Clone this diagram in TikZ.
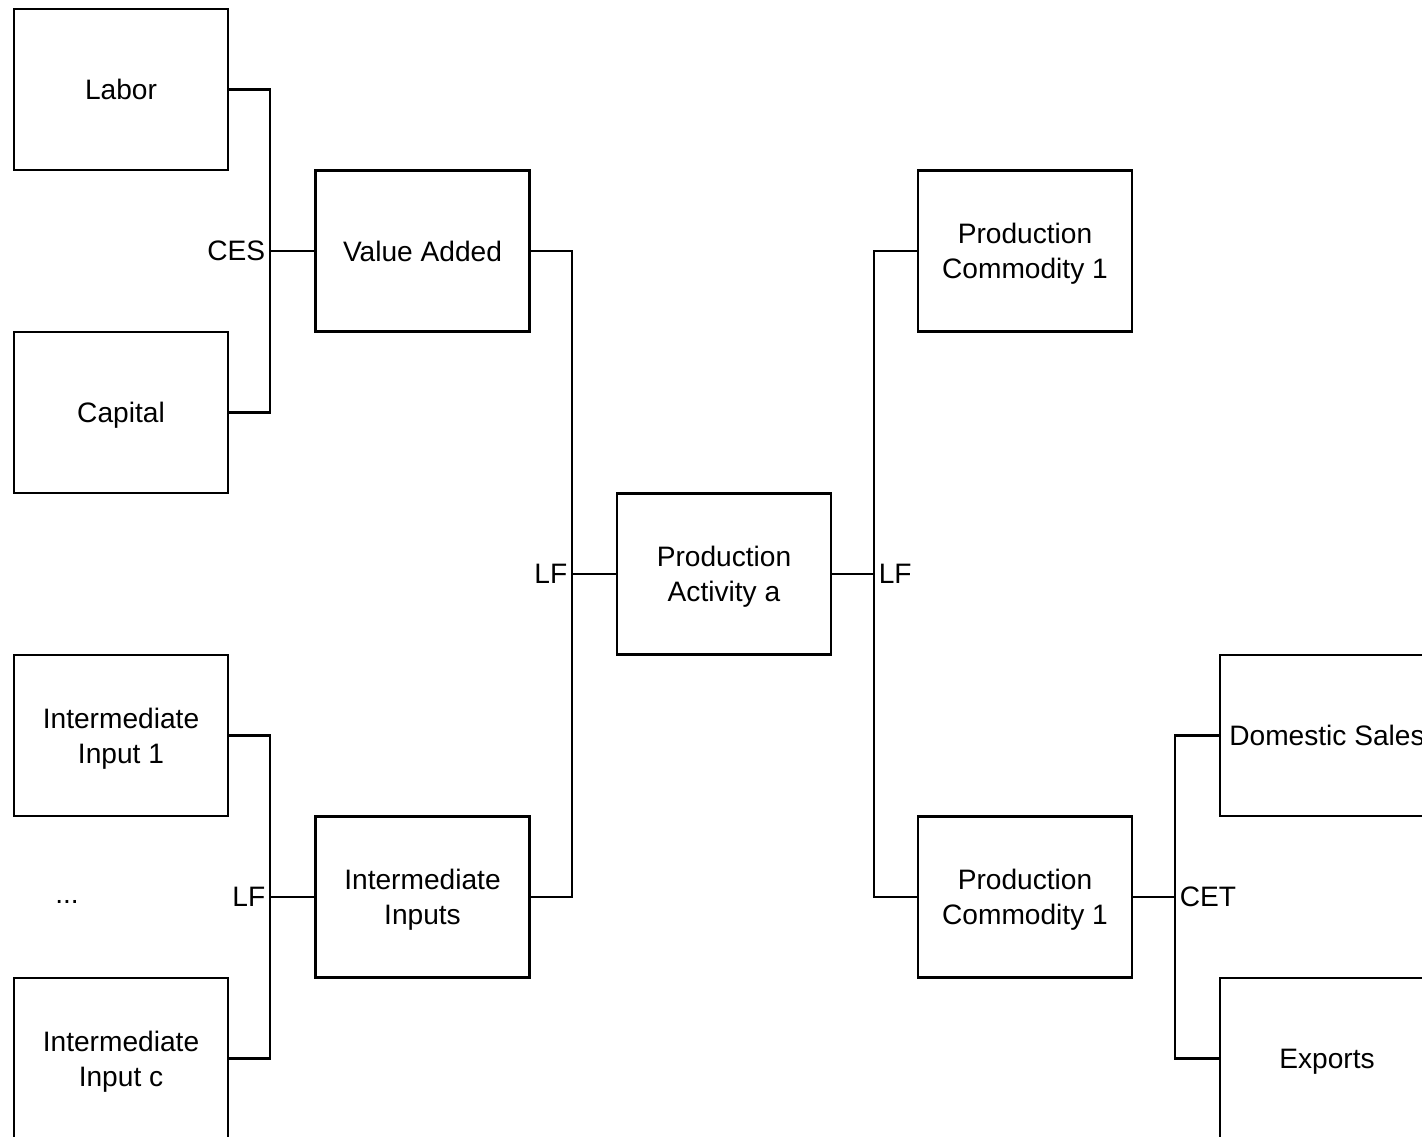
\documentclass[tikz,border=0pt]{standalone}
\usepackage{fontspec}
\setmainfont{Liberation Sans}
\usepackage{tikz}
\usetikzlibrary{shapes.geometric, arrows}
\tikzstyle{box} = [draw, line width=0.95pt, minimum width=2.675cm, minimum height=2.0125cm, align=center, inner sep=0pt, text depth=0pt, font=\fontsize{10}{12.4}\selectfont]
\tikzstyle{link} = [line width=0.9pt]
\tikzstyle{lab} = [inner sep=1.5pt, font=\fontsize{10}{12.4}\selectfont]

\begin{document}
\begin{tikzpicture}[x=0.0125cm,y=-0.0125cm]
	\clip (0,0) rectangle (1422,1137);
	\fill[white] (0,0) rectangle (1422,1137);

	% Boxes:
	% Left column: factors and intermediate inputs
	\node[box] (labor) at (121,89.5) {Labor};
	\node[box] (capital) at (121,412.5) {Capital};
	\node[box] (input1) at (121,735.5) {Intermediate\\Input 1};
	\node[box] (inputc) at (121,1058.5) {Intermediate\\Input c};
	\node[lab] (dots) at (67,902) {...};

	% Second column: aggregates
	\node[box] (valueadded) at (422.5,251) {Value Added};
	\node[box] (inputs) at (422.5,897) {Intermediate\\Inputs};

	% Centre: the activity
	\node[box] (activity) at (724,574) {Production\\Activity a};

	% Right side: commodities and their use
	\node[box] (comtop) at (1025,251) {Production\\Commodity 1};
	\node[box] (combot) at (1025,897) {Production\\Commodity 1};
	\node[box] (domestic) at (1327,735.5) {Domestic Sales};
	\node[box] (exports) at (1327,1058.5) {Exports};

	% Junctions:
	\coordinate (ces) at (270,251);
	\coordinate (lfin) at (270,897);
	\coordinate (lfva) at (572,574);
	\coordinate (lfout) at (874,574);
	\coordinate (cet) at (1175,897);

	% Connectors:
	\draw[link] (labor.east) -| (ces) |- (capital.east);
	\draw[link] (ces) -- (valueadded.west);
	\draw[link] (input1.east) -| (lfin) |- (inputc.east);
	\draw[link] (lfin) -- (inputs.west);
	\draw[link] (valueadded.east) -| (lfva) |- (inputs.east);
	\draw[link] (lfva) -- (activity.west);
	\draw[link] (comtop.west) -| (lfout) |- (combot.west);
	\draw[link] (lfout) -- (activity.east);
	\draw[link] (domestic.west) -| (cet) |- (exports.west);
	\draw[link] (cet) -- (combot.east);

	% Labels of the nests:
	\node[lab, anchor=east] (cesl) at (ces) {CES};
	\node[lab, anchor=east] (lfinl) at (lfin) {LF};
	\node[lab, anchor=east] (lfval) at (lfva) {LF};
	\node[lab, anchor=west] (lfoutl) at (lfout) {LF};
	\node[lab, anchor=west] (cetl) at (cet) {CET};
\end{tikzpicture}
\end{document}
